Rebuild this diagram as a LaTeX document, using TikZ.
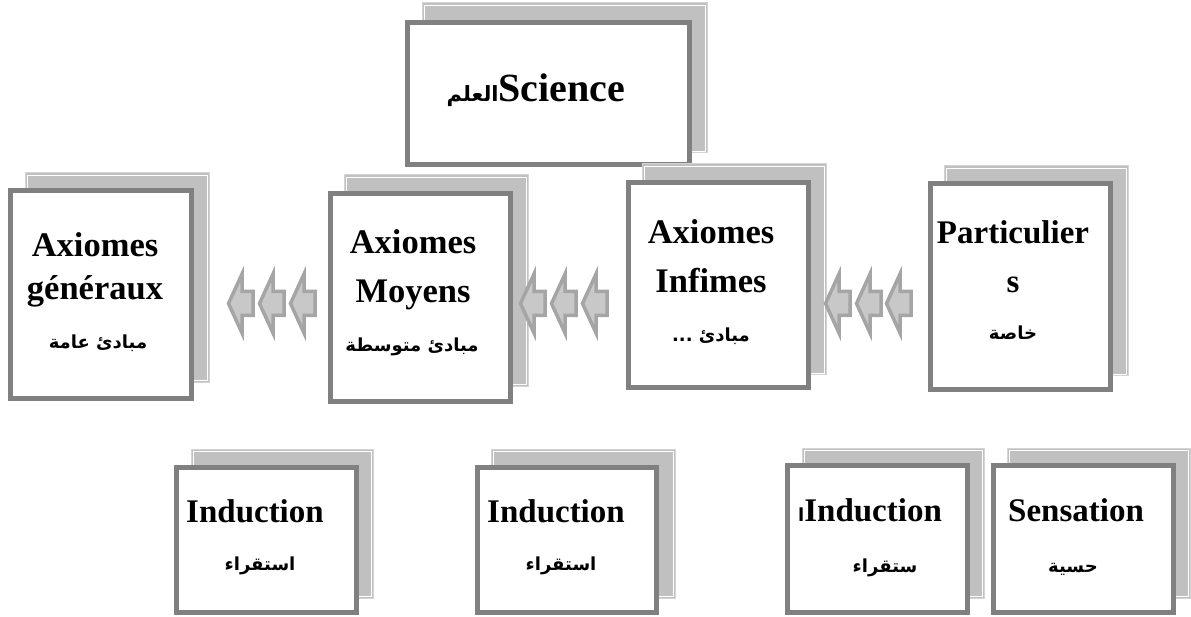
\documentclass[tikz,border=0pt]{standalone}
\usepackage{fontspec}
\setmainfont{Liberation Serif}
\newfontfamily\arabicfont[Script=Arabic]{DejaVu Sans}
\TeXXeTstate=1
\definecolor{framegray}{RGB}{128,128,128}
\definecolor{shadegray}{RGB}{192,192,192}
\definecolor{shadeedge}{RGB}{212,212,212}
\definecolor{chevedge}{RGB}{165,165,165}
\definecolor{chevfill}{RGB}{200,200,200}
\tikzset{
  frontbox/.style={draw=framegray, fill=white, line width=5pt, inner sep=0pt},
  backbox/.style={draw=shadeedge, fill=shadegray, line width=1pt},
  lat/.style={font=\bfseries\fontsize{33}{36}\selectfont, anchor=base, inner sep=0pt},
  latb/.style={font=\bfseries\fontsize{34.5}{38}\selectfont, anchor=base, inner sep=0pt},
  big/.style={font=\bfseries\fontsize{40}{44}\selectfont, anchor=base, inner sep=0pt},
  arb/.style={font=\arabicfont\bfseries\fontsize{18}{22}\selectfont, anchor=base, inner sep=0pt},
  chev/.pic={\draw[draw=chevedge, fill=chevfill, line width=3.5pt, line join=miter]
     (2.5,0) -- (16,-29.5) -- (16,-12) -- (27,-12) -- (27,12) -- (16,12) -- (16,29.5) -- cycle;}
}
\newcommand\layered[9]{%
  \draw[backbox] (#6,#7) rectangle (#8,#9);
  \draw[white, line width=0.8pt] (#6+2,#7+2) rectangle (#8-2,#9-2);
  \node[frontbox, minimum width={#4-#2-5}, minimum height={#5-#3-5}] (#1)
     at ({(#2+#4)/2},{(#3+#5)/2}) {};
}
\begin{document}
\begin{tikzpicture}[x=1pt,y=-1pt]
\useasboundingbox (0,0) rectangle (1191,617);
% boxes
\layered{sci}{405}{20}{692}{167}{422}{3}{707}{153}
\layered{gen}{8}{188}{194}{401}{25}{173}{209}{382}
\layered{moy}{328}{191}{513}{404}{344}{175}{528}{386}
\layered{inf}{626}{180}{811}{390}{642}{164}{826}{375}
\layered{par}{928}{181}{1113}{392}{944}{166}{1128}{376}
\layered{ind1}{174}{465}{359}{615}{191}{449}{373}{598}
\layered{ind2}{475}{465}{659}{615}{491}{449}{675}{598}
\layered{ind3}{785}{463}{970}{615}{802}{448}{984}{598}
\layered{sen}{991}{463}{1176}{615}{1007}{448}{1190}{598}
% arrows
\foreach \x in {226,257,288,518,549,580,823,854,884}
  \pic at (\x,303.5) {chev};
% texts
\node[big] (tsci) at (536,102) {{\arabicfont\bfseries\fontsize{21}{26}\selectfont\beginR العلم\endR}Science};
\node[latb] (tgen1) at (95,257) {Axiomes};
\node[latb] (tgen2) at (95,300) {généraux};
\node[arb] (tgen3) at (98,349) {\beginR مبادئ عامة\endR};
\node[latb] (tmoy1) at (413,254) {Axiomes};
\node[latb] (tmoy2) at (413,303) {Moyens};
\node[arb] (tmoy3) at (412,352) {\beginR مبادئ متوسطة\endR};
\node[latb] (tinf1) at (711,244) {Axiomes};
\node[latb] (tinf2) at (711,293) {Infimes};
\node[arb] (tinf3) at (711,342) {\beginR مبادئ ...\endR};
\node[lat] (tpar1) at (1013,244) {Particulier};
\node[lat] (tpar2) at (1013,293) {s};
\node[arb] (tpar3) at (1013,340) {\beginR خاصة\endR};
\node[lat] (tind11) at (255,522) {Induction};
\node[arb] (tind12) at (260,570) {\beginR استقراء\endR};
\node[lat] (tind21) at (556,522) {Induction};
\node[arb] (tind22) at (561,570) {\beginR استقراء\endR};
\node[lat] (tind31) at (870,521) {{\arabicfont\bfseries\fontsize{18}{22}\selectfont\beginR ا\endR}Induction};
\node[arb] (tind32) at (885,572) {\beginR ستقراء\endR};
\node[lat] (tsen1) at (1076,521) {Sensation};
\node[arb] (tsen2) at (1073,572) {\beginR حسية\endR};
\end{tikzpicture}
\end{document}
